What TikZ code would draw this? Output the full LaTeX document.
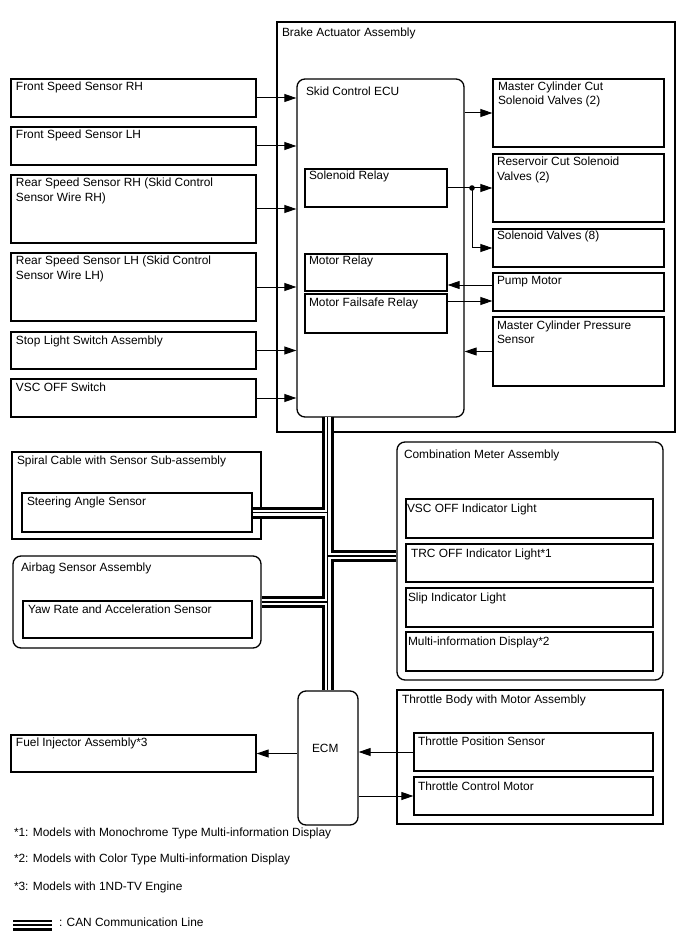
\documentclass[tikz,border=0pt]{standalone}
\usepackage{fontspec}
\setmainfont{Liberation Sans}
\usetikzlibrary{arrows.meta,fit,calc}
\newcommand\tx[4]{\node[lbl] (#1) at (#2,#3-10.15) {\strut #4};}
\begin{document}
\begin{tikzpicture}[x=1pt,y=-1pt,
  box/.style={draw, line width=1.3pt, inner sep=0pt, fit={#1}},
  rbox/.style={box={#1}, rounded corners=8pt},
  lbl/.style={anchor=north west, inner sep=0pt, outer sep=0pt, align=left, font=\fontsize{11.9}{14.5}\selectfont},
  arr/.style={line width=1pt, -{Triangle[length=12pt,width=8pt]}},
  can/.style={line width=12pt, draw=black, postaction={draw=white, line width=6pt}, postaction={draw=black, line width=1.1pt}},
  canlg/.style={line width=11pt, draw=black, postaction={draw=white, line width=5.5pt}, postaction={draw=black, line width=1.2pt}}
]
\fill[white] (0,0) rectangle (688,949);
\useasboundingbox (0,0) rectangle (688,949);

% left inputs
\node[box={(11,79) (256,117)}] (fsrh) {};
\node[box={(11,127) (256,165)}] (fslh) {};
\node[box={(11,175) (256,243)}] (rsrh) {};
\node[box={(11,253) (256,321)}] (rslh) {};
\node[box={(11,332) (256,369)}] (sls) {};
\node[box={(11,379) (256,417)}] (vsc) {};
\tx{fsrht}{16}{91}{Front Speed Sensor RH}
\tx{fslht}{16}{139}{Front Speed Sensor LH}
\tx{rsrht}{16}{186.6}{Rear Speed Sensor RH (Skid Control\\Sensor Wire RH)}
\tx{rslht}{16}{265}{Rear Speed Sensor LH (Skid Control\\Sensor Wire LH)}
\tx{slst}{16}{344}{Stop Light Switch Assembly}
\tx{vsct}{16}{391.6}{VSC OFF Switch}

% brake actuator
\node[box={(277,22) (675,432)}] (baa) {};
\tx{baat}{282}{36.5}{Brake Actuator Assembly}
\node[rbox={(297,79) (464,417)}] (ecu) {};
\tx{ecut}{306}{96}{Skid Control ECU}
\node[box={(305,169) (447,207)}] (srel) {};
\node[box={(305,254) (447,291)}] (mrel) {};
\node[box={(305,294) (447,333)}] (mfr) {};
\tx{srelt}{309}{180}{Solenoid Relay}
\tx{mrelt}{309}{265}{Motor Relay}
\tx{mfrt}{309}{306}{Motor Failsafe Relay}
\node[box={(493,79) (664,147)}] (mcc) {};
\node[box={(493,154) (664,222)}] (rcs) {};
\node[box={(493,229) (664,267)}] (sv) {};
\node[box={(493,273) (664,311)}] (pm) {};
\node[box={(493,317) (664,386)}] (mcps) {};
\tx{mcct}{498}{90.3}{Master Cylinder Cut\\Solenoid Valves (2)}
\tx{rcst}{497}{165.6}{Reservoir Cut Solenoid\\Valves (2)}
\tx{svt}{497}{240}{Solenoid Valves (8)}
\tx{pmt}{497}{284.3}{Pump Motor}
\tx{mcpst}{497}{329}{Master Cylinder Pressure\\Sensor}

% arrows into ECU
\foreach \n in {fsrh,fslh,rsrh,rslh,sls,vsc}
  \draw[arr] (\n.east) -- (\n.east -| ecu.west);
\draw[arr] (mcc.west -| ecu.east) -- (mcc.west);
\coordinate (dot) at (472,188);
\draw[arr] (srel.east) -- (rcs.west);
\draw[arr] (dot) |- (sv.west);
\fill (dot) circle (2.8pt);
\draw[arr] ([yshift=7pt]pm.west) -- ([yshift=7pt]pm.west -| mrel.east);
\draw[arr] ([yshift=-9pt]pm.west -| mfr.east) -- ([yshift=-9pt]pm.west);
\draw[arr] (mcps.west) -- (mcps.west -| ecu.east);

% spiral cable / airbag
\node[box={(12,452) (261,539)}] (scs) {};
\tx{scst}{17}{464}{Spiral Cable with Sensor Sub-assembly}
\node[box={(22,493) (252,532)}] (sas) {};
\tx{sast}{27}{505.6}{Steering Angle Sensor}
\node[rbox={(13,556) (261,648)}] (abs) {};
\tx{abst}{21}{571}{Airbag Sensor Assembly}
\node[box={(23,601) (252,638)}] (yrs) {};
\tx{yrst}{28}{613.3}{Yaw Rate and Acceleration Sensor}

% combination meter
\node[rbox={(397,442) (663,680)}] (cma) {};
\tx{cmat}{404}{458.3}{Combination Meter Assembly}
\node[box={(406,499) (653,538)}] (vsci) {};
\node[box={(406,544) (653,582)}] (trc) {};
\node[box={(406,588) (653,627)}] (slip) {};
\node[box={(406,632) (653,671)}] (mid) {};
\tx{vscit}{407}{512.3}{VSC OFF Indicator Light}
\tx{trct}{411}{557.3}{TRC OFF Indicator Light*1}
\tx{slipt}{408}{601.6}{Slip Indicator Light}
\tx{midt}{408}{645}{Multi-information Display*2}

% ECM and throttle
\node[rbox={(298,691) (358,825)}] (ecm) {};
\tx{ecmt}{312}{752.5}{ECM}
\node[box={(11,735) (256,772)}] (fi) {};
\tx{fit}{16}{746}{Fuel Injector Assembly*3}
\node[box={(397,690) (663,824)}] (tbm) {};
\tx{tbmt}{402}{703.3}{Throttle Body with Motor Assembly}
\node[box={(414,733) (653,771)}] (tps) {};
\node[box={(414,777) (653,815)}] (tcm) {};
\tx{tpst}{418}{745.6}{Throttle Position Sensor}
\tx{tcmt}{418}{790}{Throttle Control Motor}
\draw[arr] (fi.east -| ecm.west) -- (fi.east);
\draw[arr] (tps.west) -- (tps.west -| ecm.east);
\draw[arr] (tcm.west -| ecm.east) -- (tcm.west);

% CAN bus
\coordinate (bt) at (327.5,417);
\draw[can] (bt) -- (bt |- ecm.north)
  (sas.east) -- (sas.east -| bt)
  (abs.east) -- (abs.east -| bt)
  ([yshift=5pt]cma.west) -- ([yshift=5pt]cma.west -| bt);

% notes
\tx{n1}{14}{836}{*1: Models with Monochrome Type Multi-information Display}
\tx{n2}{14}{862}{*2: Models with Color Type Multi-information Display}
\tx{n3}{14}{890}{*3: Models with 1ND-TV Engine}
\coordinate (lg1) at (13,925);
\coordinate (lg2) at (52,925);
\draw[canlg] (lg1) -- (lg2);
\tx{lgt}{59}{926.7}{: CAN Communication Line}
\end{tikzpicture}
\end{document}
